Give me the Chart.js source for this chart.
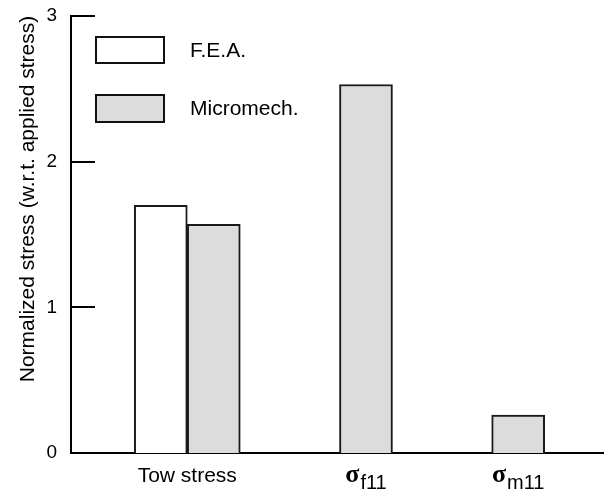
<!DOCTYPE html>
<html>
<head>
<meta charset="utf-8">
<script src="https://cdn.jsdelivr.net/npm/chart.js@4"></script>
<style>
  html, body { margin: 0; padding: 0; background: #fff; }
  #wrap { width: 604px; height: 494px; }
</style>
</head>
<body>
<div id="wrap"><canvas id="myChart" width="604" height="494"></canvas></div>
<script>
// data
const categories = ['Tow stress', 'σ', 'σ'];
const categorySubs = ['', 'f11', 'm11'];
const feaValues = [1.70, null, null];
const microValues = [1.57, 2.53, 0.26];
const yTicks = [0, 1, 2, 3];
const seriesNames = ['F.E.A.', 'Micromech.'];
const yTitle = 'Normalized stress (w.r.t. applied stress)';

const SANS = "'Liberation Sans', Arial, sans-serif";
const SERIF = "'Liberation Serif', 'Times New Roman', serif";

function toPoints(values) {
    return values.map((v, i) => ({ x: i + 1, y: v }));
}

// ticks pointing inward, legend boxes, y title and the x labels with subscripts
const extras = {
    id: 'extras',
    afterDraw(chart) {
        const ctx = chart.ctx;
        const area = chart.chartArea;
        const yScale = chart.scales.y;
        ctx.save();
        ctx.strokeStyle = '#000';
        ctx.lineWidth = 2;
        yTicks.forEach(t => {
            const y = Math.round(yScale.getPixelForValue(t));
            ctx.beginPath();
            ctx.moveTo(area.left, y);
            ctx.lineTo(area.left + 24, y);
            ctx.stroke();
        });

        // legend
        const boxes = [{ y: 37, h: 26 }, { y: 95, h: 27 }];
        chart.data.datasets.forEach((ds, i) => {
            const b = boxes[i];
            ctx.fillStyle = ds.backgroundColor;
            ctx.fillRect(96, b.y, 68, b.h);
            ctx.strokeStyle = '#111';
            ctx.lineWidth = 2;
            ctx.strokeRect(96, b.y, 68, b.h);
            ctx.fillStyle = '#000';
            ctx.font = '21px ' + SANS;
            ctx.textAlign = 'left';
            ctx.textBaseline = 'middle';
            ctx.fillText(ds.label, 190, b.y + b.h / 2 + 1);
        });

        // x labels centred under the bars that exist
        categories.forEach((cat, i) => {
            const xs = [];
            chart.data.datasets.forEach((ds, d) => {
                if (ds.data[i].y !== null) xs.push(chart.getDatasetMeta(d).data[i].x);
            });
            const cx = xs.reduce((a, b) => a + b, 0) / xs.length;
            ctx.fillStyle = '#000';
            ctx.textBaseline = 'alphabetic';
            if (!categorySubs[i]) {
                ctx.font = '21px ' + SANS;
                ctx.textAlign = 'center';
                ctx.fillText(cat, cx, 482);
            } else {
                ctx.font = 'bold 26px ' + SERIF;
                const w1 = ctx.measureText(cat).width;
                ctx.font = '20px ' + SANS;
                const w2 = ctx.measureText(categorySubs[i]).width;
                const start = cx - (w1 + 1 + w2) / 2;
                ctx.textAlign = 'left';
                ctx.font = 'bold 26px ' + SERIF;
                ctx.fillText(cat, start, 482);
                ctx.font = '20px ' + SANS;
                ctx.fillText(categorySubs[i], start + w1 + 1, 489);
            }
        });

        // y axis title
        ctx.translate(34, 199);
        ctx.rotate(-Math.PI / 2);
        ctx.font = '21px ' + SANS;
        ctx.textAlign = 'center';
        ctx.fillText(yTitle, 0, 0);
        ctx.restore();
    }
};

const ctx = document.getElementById('myChart').getContext('2d');
new Chart(ctx, {
    type: 'bar',
    data: {
        datasets: [{
            label: seriesNames[0],
            data: toPoints(feaValues),
            backgroundColor: '#ffffff',
            borderColor: '#1a1a1a',
            borderWidth: 2
        }, {
            label: seriesNames[1],
            data: toPoints(microValues),
            backgroundColor: '#dcdcdc',
            borderColor: '#1a1a1a',
            borderWidth: 2
        }]
    },
    options: {
        responsive: false,
        animation: false,
        barThickness: 53,
        layout: { padding: { top: 16, right: 0, bottom: 0, left: 0 } },
        plugins: { legend: { display: false }, tooltip: { enabled: false } },
        scales: {
            x: {
                type: 'linear',
                min: 0.236,
                max: 3.738,
                offset: false,
                grid: { display: false, drawTicks: false },
                border: { display: true, color: '#000', width: 2 },
                ticks: { display: false },
                afterFit(s) { s.height = 41; s.paddingLeft = 0; s.paddingRight = 0; }
            },
            y: {
                min: 0,
                max: 3,
                ticks: { stepSize: 1, padding: 14, color: '#000', font: { family: SANS, size: 19 } },
                grid: { display: false, drawTicks: false },
                border: { display: true, color: '#000', width: 2 },
                afterFit(s) { s.width = 71; s.paddingTop = 0; s.paddingBottom = 0; }
            }
        }
    },
    plugins: [extras]
});
</script>
</body>
</html>
